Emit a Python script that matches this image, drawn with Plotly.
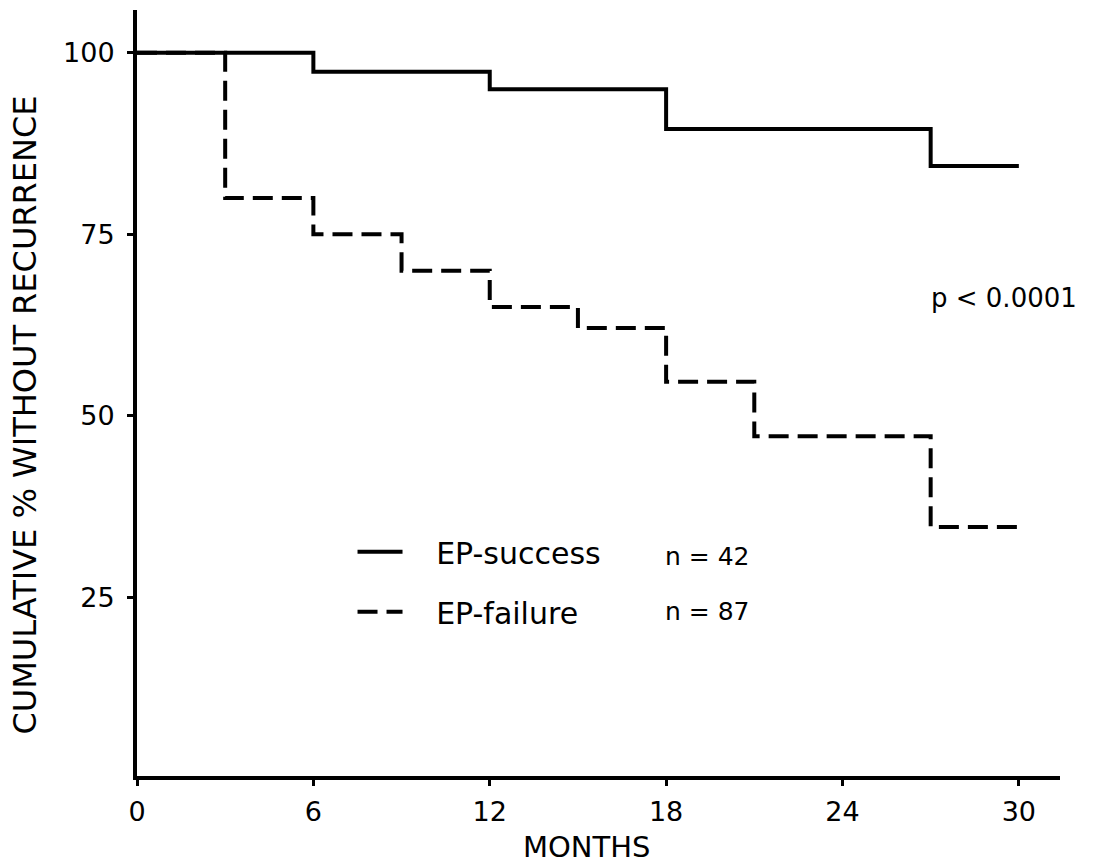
import plotly.graph_objects as go

# Data (Kaplan-Meier style step curves)
success_months = [0, 6, 12, 18, 27, 30]
success_pct = [100, 97.4, 95.0, 89.5, 84.4, 84.4]

failure_months = [0, 3, 6, 9, 12, 15, 18, 21, 27, 30]
failure_pct = [100, 80, 75, 70, 65, 62.1, 54.7, 47.2, 34.7, 34.7]

x_ticks = [0, 6, 12, 18, 24, 30]
y_ticks = [25, 50, 75, 100]

FONT = "DejaVu Sans, Liberation Sans, Arial, sans-serif"
NB = "\u00a0"

fig = go.Figure()
fig.add_trace(go.Scatter(
    x=success_months, y=success_pct, mode="lines", line_shape="hv",
    line=dict(color="black", width=4), name=NB * 3 + "EP-success", legendgroup="a"))
fig.add_trace(go.Scatter(
    x=failure_months, y=failure_pct, mode="lines", line_shape="hv",
    line=dict(color="black", width=4, dash="20px,9px"), name=NB * 3 + "EP-failure",
    legendgroup="b"))

fig.update_layout(
    width=1099, height=865,
    margin=dict(l=137, r=39, t=10, b=89),
    paper_bgcolor="white", plot_bgcolor="white",
    font=dict(family=FONT, size=24, color="black"),
    showlegend=True,
    legend=dict(x=0.2335, y=0.2535, xanchor="left", yanchor="middle",
                bgcolor="rgba(0,0,0,0)", tracegroupgap=18, itemwidth=45,
                font=dict(size=30)),
    xaxis=dict(range=[0, 31.4], showline=True, linewidth=4, linecolor="black",
               showgrid=False, zeroline=False, ticks="outside", ticklen=6,
               tickwidth=3, tickcolor="black", tickvals=x_ticks,
               ticktext=[str(v) for v in x_ticks], ticklabelstandoff=3,
               tickfont=dict(size=27)),
    yaxis=dict(range=[0.4, 105.9], showline=True, linewidth=4, linecolor="black",
               showgrid=False, zeroline=False, ticks="outside", ticklen=6,
               tickwidth=3, tickcolor="black", tickvals=y_ticks,
               ticktext=[str(v) for v in y_ticks], ticklabelstandoff=7,
               tickfont=dict(size=27)),
    annotations=[
        dict(text="MONTHS", xref="paper", yref="paper", x=0.4875, y=-0.093,
             showarrow=False, font=dict(size=29), xanchor="center", yanchor="middle"),
        dict(text="CUMULATIVE % WITHOUT RECURRENCE", xref="paper", yref="paper",
             x=-0.121, y=0.471, textangle=-90, showarrow=False,
             font=dict(size=32), xanchor="center", yanchor="middle"),
        dict(text="p < 0.0001", xref="x", yref="y", x=29.5, y=66.3,
             showarrow=False, font=dict(size=26), xanchor="center", yanchor="middle"),
        dict(text="n = 42", xref="x", yref="y", x=17.9, y=30.7,
             showarrow=False, font=dict(size=25), xanchor="left", yanchor="middle"),
        dict(text="n = 87", xref="x", yref="y", x=17.9, y=23.1,
             showarrow=False, font=dict(size=25), xanchor="left", yanchor="middle"),
    ],
)

fig.write_html("out.html")
